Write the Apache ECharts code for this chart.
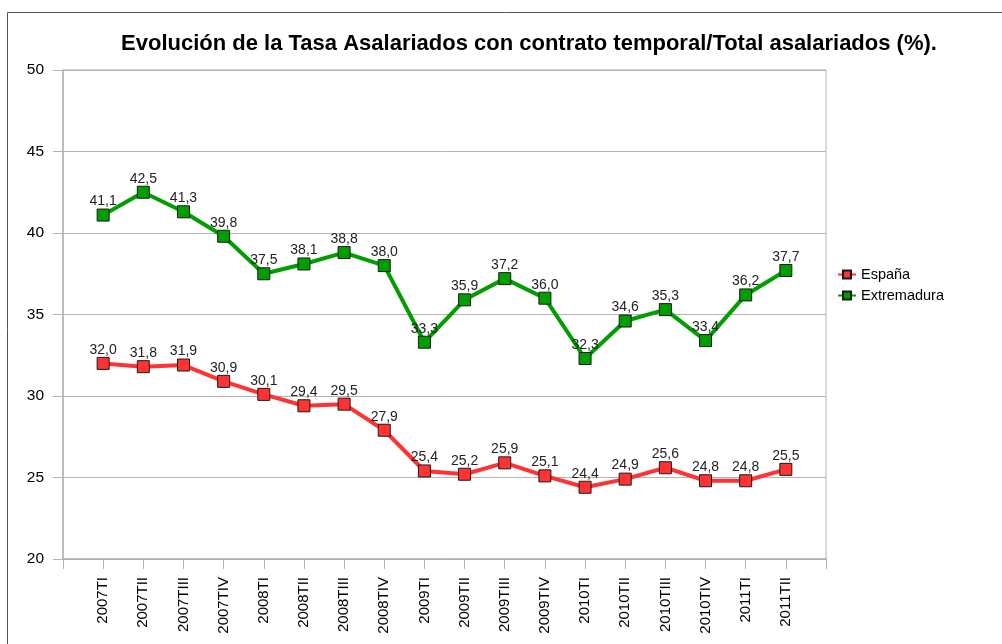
<!DOCTYPE html>
<html>
  <head>
    <meta charset="utf-8" />
    <title>Tasa temporalidad</title>
    <script src="https://cdn.jsdelivr.net/npm/echarts@6/dist/echarts.min.js"></script>
  </head>
  <body style="margin: 0">
    <div id="main" style="width: 1002px; height: 644px"></div>
    <script type="text/javascript">
      var trimestres = [
        "2007TI", "2007TII", "2007TIII", "2007TIV",
        "2008TI", "2008TII", "2008TIII", "2008TIV",
        "2009TI", "2009TII", "2009TIII", "2009TIV",
        "2010TI", "2010TII", "2010TIII", "2010TIV",
        "2011TI", "2011TII"
      ];
      var espana = [32.0, 31.8, 31.9, 30.9, 30.1, 29.4, 29.5, 27.9, 25.4, 25.2, 25.9, 25.1, 24.4, 24.9, 25.6, 24.8, 24.8, 25.5];
      var extremadura = [41.1, 42.5, 41.3, 39.8, 37.5, 38.1, 38.8, 38.0, 33.3, 35.9, 37.2, 36.0, 32.3, 34.6, 35.3, 33.4, 36.2, 37.7];

      // hueco vacío a cada lado, como en el gráfico original
      var cats = [""].concat(trimestres, [""]);
      function pad(arr) {
        return ["-"].concat(arr, ["-"]);
      }

      var myChart = echarts.init(document.getElementById("main"));
      var font = "Liberation Sans";

      function serie(nombre, datos, color) {
        return {
          name: nombre,
          type: "line",
          data: pad(datos),
          symbol: "rect",
          symbolSize: 12,
          lineStyle: { width: 4, color: color },
          itemStyle: { color: color, borderColor: "#1a1a1a", borderWidth: 1 },
          label: {
            show: true,
            position: "top",
            distance: 0,
            fontFamily: font,
            fontSize: 14,
            color: "#222",
            formatter: function (p) {
              return p.value.toFixed(1).replace(".", ",");
            },
          },
          emphasis: { disabled: true },
          animation: false,
        };
      }

      var option = {
        backgroundColor: "#fff",
        graphic: [
          {
            type: "rect",
            shape: { x: 7.5, y: 12.5, width: 1000, height: 700 },
            style: { fill: "none", stroke: "#555", lineWidth: 1 },
            silent: true,
          },
        ],
        title: {
          text: "Evolución de la Tasa Asalariados con contrato temporal/Total asalariados (%).",
          left: 524,
          textAlign: "center",
          top: 28,
          textStyle: {
            fontFamily: font,
            fontWeight: "bold",
            fontSize: 22,
            color: "#000",
          },
        },
        legend: {
          orient: "vertical",
          left: 832,
          top: 262,
          itemWidth: 18,
          itemHeight: 10,
          itemGap: 6,
          textStyle: { fontFamily: font, fontSize: 14.5, color: "#000" },
          data: ["España", "Extremadura"],
        },
        grid: {
          left: 63,
          right: 176,
          top: 70,
          bottom: 85,
          show: true,
          borderColor: "#b3b3b3",
          borderWidth: 1,
        },
        xAxis: {
          type: "category",
          data: cats,
          boundaryGap: false,
          axisLine: { lineStyle: { color: "#b3b3b3", width: 1.5 } },
          axisTick: { show: true, interval: 0, length: 10, lineStyle: { color: "#b3b3b3" } },
          axisLabel: {
            interval: 0,
            rotate: 90,
            margin: 18,
            fontFamily: font,
            fontSize: 15,
            color: "#000",
          },
          splitLine: { show: false },
        },
        yAxis: {
          type: "value",
          min: 20,
          max: 50,
          interval: 5,
          axisLine: { show: true, lineStyle: { color: "#b3b3b3", width: 1.5 } },
          axisTick: { show: true, length: 10, lineStyle: { color: "#b3b3b3" } },
          axisLabel: { margin: 19, fontFamily: font, fontSize: 15.5, color: "#000" },
          splitLine: { lineStyle: { color: "#b3b3b3" } },
        },
        series: [
          serie("España", espana, "#ff3333"),
          serie("Extremadura", extremadura, "#009e00"),
        ],
      };
      myChart.setOption(option);
    </script>
  </body>
</html>
